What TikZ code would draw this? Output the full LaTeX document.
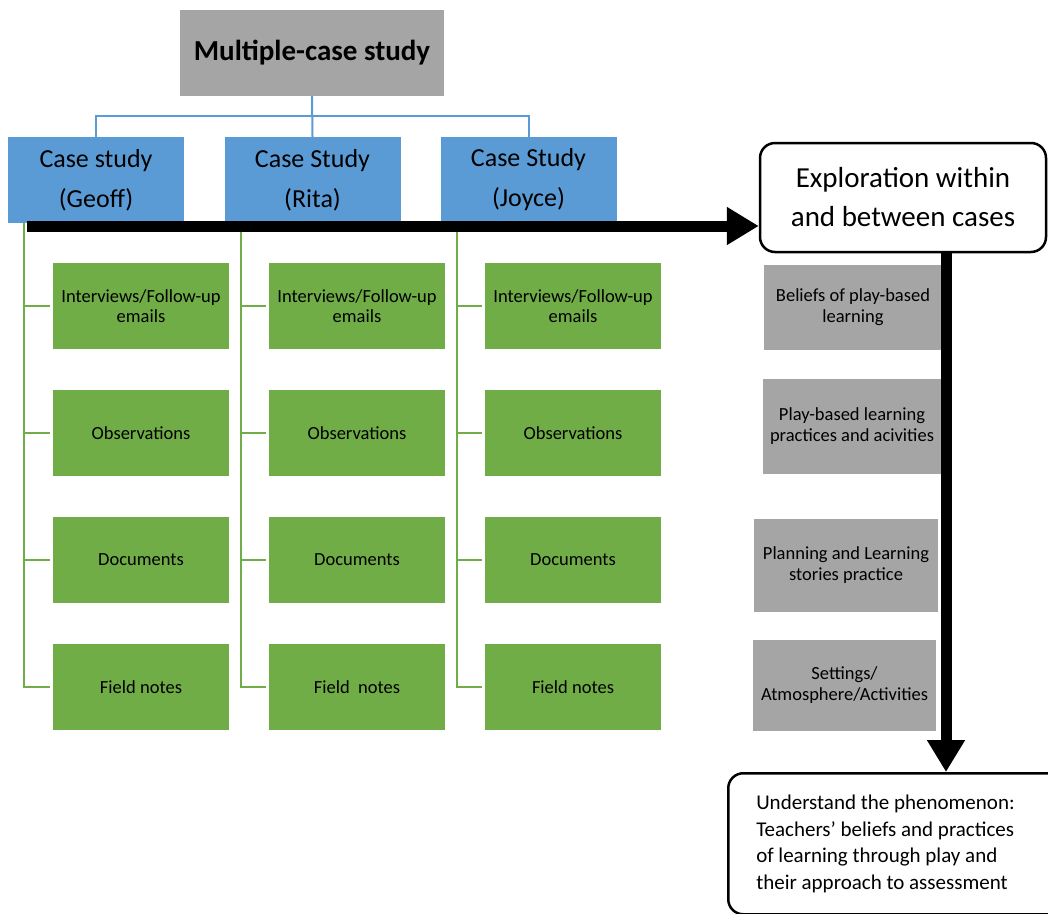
\documentclass[tikz,border=0pt]{standalone}
\usepackage{fontspec}
\setmainfont{Carlito}
\usetikzlibrary{positioning,arrows.meta,calc}
\definecolor{ink}{RGB}{0,0,0}
\definecolor{headgray}{RGB}{165,165,165}
\definecolor{caseblue}{RGB}{91,155,213}
\definecolor{srcgreen}{RGB}{112,173,71}
\tikzset{
  headbox/.style={fill=headgray, minimum width=264pt, minimum height=86pt, align=center,
    inner sep=0pt, font=\fontsize{29}{34}\selectfont\bfseries, text=ink},
  casebox/.style={fill=caseblue, minimum width=176pt, minimum height=86pt, align=center,
    inner sep=0pt, font=\fontsize{26}{40}\selectfont, text=ink},
  srcbox/.style={fill=srcgreen, minimum width=176pt, minimum height=86pt, align=center,
    inner sep=0pt, font=\fontsize{18.5}{20}\selectfont, text=ink},
  themebox/.style={fill=headgray, align=center, inner sep=0pt,
    font=\fontsize{18.5}{21}\selectfont, text=ink},
  roundbox/.style={draw=ink, fill=white, rounded corners=15pt, line width=2.5pt, text=ink},
  tree/.style={draw=caseblue, line width=2pt},
  branch/.style={draw=srcgreen, line width=2pt},
  bigarrow/.style={draw=ink, line width=11pt, -{Triangle[length=32pt, width=36pt]}},
}
\begin{document}
\begin{tikzpicture}[x=1pt,y=-1pt]
  \useasboundingbox (0,0) rectangle (1048,913);
  % head and cases
  \node[headbox] (multi) at (312,53) {Multiple-case study};
  \node[casebox] (geoff) at (96,180) {Case study\\(Geoff)};
  \node[casebox] (rita) at (312.5,180) {Case Study\\(Rita)};
  \node[casebox] (joyce) at (528.5,180) {Case Study\\(Joyce)};
  \coordinate (split) at ($(multi.south)+(0,20)$);
  \draw[tree] (multi.south) -- (rita.north);
  \draw[tree] (geoff.north) |- (split) -| (joyce.north);
  % data sources per case
  \foreach \c/\cx/\fn in {geoff/141/Field notes, rita/357/Field\ \ notes, joyce/573/Field notes} {
    \node[srcbox] (\c-int) at (\cx,306) {Interviews/Follow-up\\emails};
    \node[srcbox] (\c-obs) at (\cx,433) {Observations};
    \node[srcbox] (\c-doc) at (\cx,560) {Documents};
    \node[srcbox] (\c-fn) at (\cx,687) {\fn};
    \coordinate (\c-spine) at ($(\c.south west)+(16.5,0)$);
    \foreach \s in {int,obs,doc,fn}
      \draw[branch, shorten >=3pt] (\c-spine) |- (\c-\s.west);
  }
  % cross-case themes
  \node[roundbox, minimum width=286pt, minimum height=109pt, align=center,
    font=\fontsize{29}{39}\selectfont] (explore) at (903,197.5)
    {Exploration within\\and between cases};
  \node[themebox, minimum width=178pt, minimum height=85pt] (beliefs) at (853,307.5)
    {Beliefs of play-based\\learning};
  \node[themebox, minimum width=178pt, minimum height=95pt] (practices) at (852,426.5)
    {Play-based learning\\practices and acivities};
  \node[themebox, minimum width=184pt, minimum height=93pt] (planning) at (846,565.5)
    {Planning and Learning\\stories practice};
  \node[themebox, minimum width=183pt, minimum height=91pt] (settings) at (844.5,685.5)
    {Settings/\\Atmosphere/Activities};
  \node[roundbox, anchor=north west, minimum height=141pt, text width=290pt,
    inner xsep=28pt, align=flush left, font=\fontsize{21}{26.7}\selectfont] (understand) at (727,772)
    {Understand the phenomenon:\\Teachers’ beliefs and practices\\of learning through play and\\their approach to assessment};
  % flow arrows
  \coordinate (flowstart) at (27,226);
  \coordinate (downx) at (946,0);
  \draw[bigarrow] (flowstart) -- (flowstart -| explore.west);
  \draw[bigarrow] (explore.south -| downx) -- (understand.north -| downx);
\end{tikzpicture}
\end{document}
